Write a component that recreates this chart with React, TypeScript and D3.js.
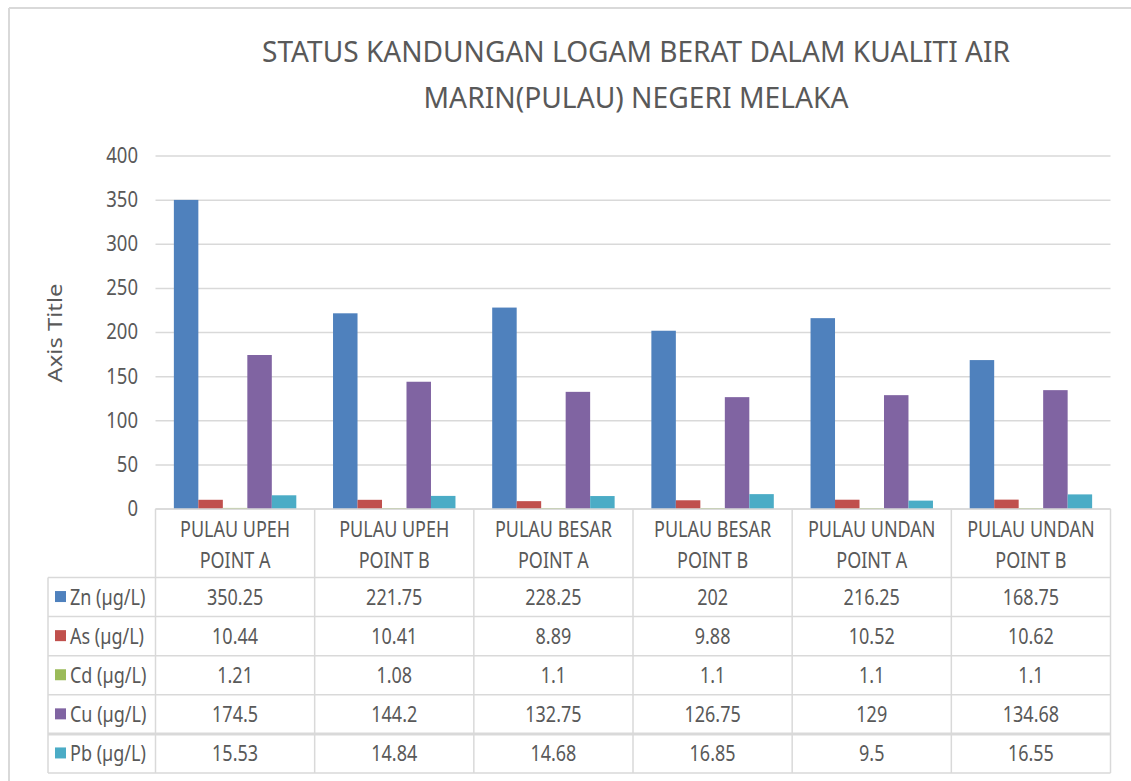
import React from "react";
import * as d3 from "d3";

const categories = [
  ["PULAU UPEH", "POINT A"],
  ["PULAU UPEH", "POINT B"],
  ["PULAU BESAR", "POINT A"],
  ["PULAU BESAR", "POINT B"],
  ["PULAU UNDAN", "POINT A"],
  ["PULAU UNDAN", "POINT B"],
];
const seriesNames = ["Zn (µg/L)", "As (µg/L)", "Cd (µg/L)", "Cu (µg/L)", "Pb (µg/L)"];
const zn = [350.25, 221.75, 228.25, 202, 216.25, 168.75];
const as = [10.44, 10.41, 8.89, 9.88, 10.52, 10.62];
const cd = [1.21, 1.08, 1.1, 1.1, 1.1, 1.1];
const cu = [174.5, 144.2, 132.75, 126.75, 129, 134.68];
const pb = [15.53, 14.84, 14.68, 16.85, 9.5, 16.55];
const yTicks = [0, 50, 100, 150, 200, 250, 300, 350, 400];
const titleLines = ["STATUS KANDUNGAN LOGAM BERAT DALAM KUALITI AIR", "MARIN(PULAU) NEGERI MELAKA"];
const colors = ["#4F81BD", "#C0504D", "#9BBB59", "#8064A2", "#4BACC6"];

const seriesValues = [zn, as, cd, cu, pb];
const FONT = "'Noto Sans', 'Open Sans', sans-serif";
const SY = 1.2;
const TXT = "#595959";
const GRID = "#D9D9D9";

function Label({ x, cy, text, size, anchor = "middle", len }: any) {
  const base = cy + 0.357 * size * SY;
  return (
    <text
      transform={`translate(${x},${base}) scale(1,${SY})`}
      fontFamily={FONT}
      fontSize={size}
      fill={TXT}
      textAnchor={anchor}
      {...(len ? { textLength: len, lengthAdjust: "spacingAndGlyphs" } : {})}
    >
      {text}
    </text>
  );
}

export default function App() {
  const W = 1131, H = 781;
  const left = 155.5, right = 1110.5, top = 156, bottom = 509;
  const x0 = d3.scaleBand<number>().domain(d3.range(categories.length)).range([left, right]).padding(0);
  const x1 = d3.scaleBand<number>().domain(d3.range(seriesNames.length)).range([0, x0.bandwidth()]).paddingInner(0).paddingOuter(0.75);
  const y = d3.scaleLinear().domain([0, 400]).range([bottom, top]);

  const headerBottom = 577.5;
  const rowH = 39.1;
  const rowTops = seriesNames.map((_, i) => headerBottom + i * rowH);
  const tableBottom = headerBottom + seriesNames.length * rowH;
  const legendLeft = 48;
  const colEdges = d3.range(categories.length + 1).map((i) => left + i * x0.step());

  return (
    <svg width={W} height={H} style={{ position: "absolute", left: 0, top: 0, background: "#fff" }}>
      <rect x={0} y={0} width={W} height={H} fill="#fff" />
      {/* chart border */}
      <line x1={9} x2={W} y1={8} y2={8} stroke={GRID} strokeWidth={2} />
      <line x1={9} x2={9} y1={8} y2={H} stroke={GRID} strokeWidth={2} />

      {/* title */}
      <Label x={636} cy={52} text={titleLines[0]} size={24} len={748} />
      <Label x={636} cy={98} text={titleLines[1]} size={24} len={425} />

      {/* gridlines */}
      {yTicks.map((t) => (
        <line key={t} x1={left} x2={right} y1={y(t)} y2={y(t)} stroke={GRID} strokeWidth={1.5} />
      ))}
      {yTicks.map((t) => (
        <Label key={"l" + t} x={138} cy={y(t) - 1} text={String(t)} size={18.5} anchor="end" />
      ))}

      {/* axis title */}
      <text
        transform={`translate(62,333) rotate(-90)`}
        fontFamily={FONT}
        fontSize={19.5}
        fill={TXT}
        textAnchor="middle"
        textLength={99}
        lengthAdjust="spacingAndGlyphs"
      >
        Axis Title
      </text>

      {/* bars */}
      {categories.map((_, ci) => (
        <g key={ci} transform={`translate(${x0(ci)},0)`}>
          {seriesValues.map((vals, si) => (
            <rect
              key={si}
              x={x1(si)}
              y={y(vals[ci])}
              width={x1.bandwidth()}
              height={bottom - y(vals[ci])}
              fill={colors[si]}
            />
          ))}
        </g>
      ))}

      {/* table lines */}
      <line x1={left} x2={right} y1={bottom} y2={bottom} stroke={GRID} strokeWidth={1.5} />
      <line x1={legendLeft} x2={right} y1={headerBottom} y2={headerBottom} stroke={GRID} strokeWidth={1.5} />
      {rowTops.slice(1).map((ry, i) => (
        <line key={i} x1={legendLeft} x2={right} y1={ry} y2={ry} stroke={GRID} strokeWidth={i === 3 ? 3 : 1.5} />
      ))}
      <line x1={legendLeft} x2={right} y1={tableBottom} y2={tableBottom} stroke={GRID} strokeWidth={1.5} />
      <line x1={legendLeft} x2={legendLeft} y1={headerBottom} y2={tableBottom} stroke={GRID} strokeWidth={1.5} />
      {colEdges.map((cx, i) => (
        <line key={i} x1={cx} x2={cx} y1={bottom} y2={tableBottom} stroke={GRID} strokeWidth={1.5} />
      ))}

      {/* category headers */}
      {categories.map((c, ci) => (
        <g key={ci}>
          <Label x={x0(ci)! + x0.bandwidth() / 2} cy={529.5} text={c[0]} size={18} />
          <Label x={x0(ci)! + x0.bandwidth() / 2} cy={560} text={c[1]} size={18} />
        </g>
      ))}

      {/* legend + values */}
      {seriesNames.map((s, si) => {
        const cy = rowTops[si] + rowH / 2;
        return (
          <g key={s}>
            <rect x={55} y={cy - 6} width={11} height={11} fill={colors[si]} />
            <Label x={70} cy={cy} text={s} size={18} anchor="start" />
            {categories.map((_, ci) => (
              <Label
                key={ci}
                x={x0(ci)! + x0.bandwidth() / 2}
                cy={cy}
                text={String(seriesValues[si][ci])}
                size={18}
              />
            ))}
          </g>
        );
      })}
    </svg>
  );
}
